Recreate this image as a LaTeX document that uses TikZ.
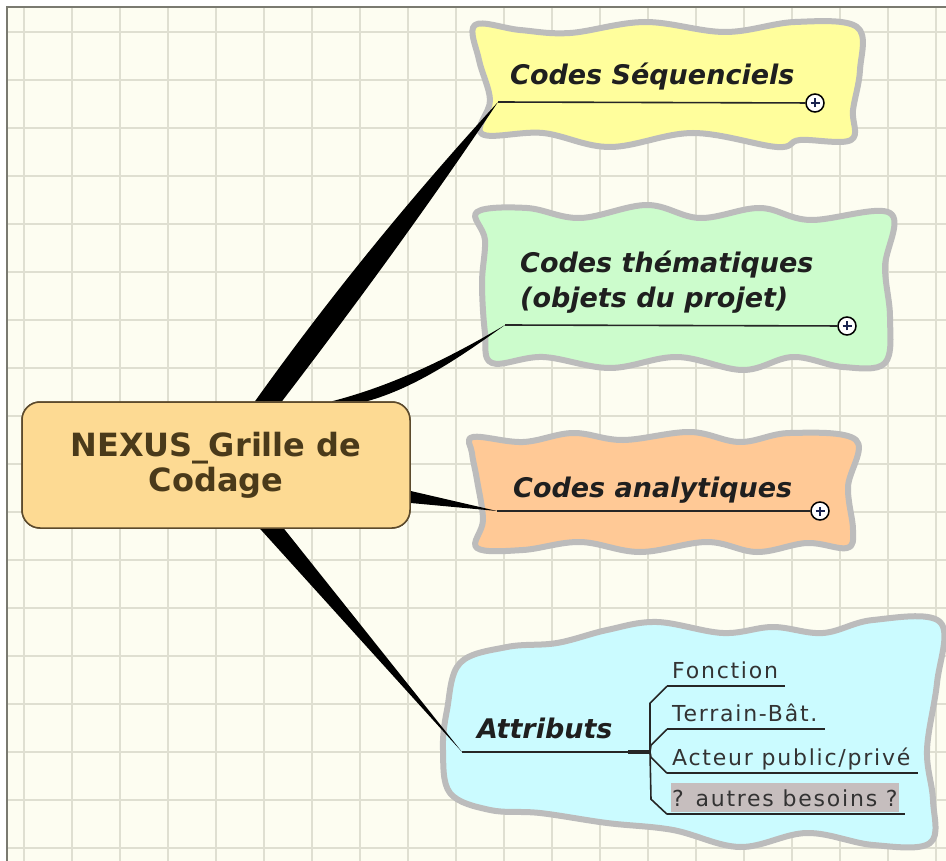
\documentclass[tikz,border=0pt]{standalone}
\usepackage{fontspec}
\setmainfont{DejaVu Sans}
\newfontfamily\itemfont[LetterSpace=8]{DejaVu Sans}
\usetikzlibrary{calc,positioning}
\definecolor{paper}{HTML}{FDFDF1}
\definecolor{gridcol}{HTML}{DFDFD1}
\definecolor{framecol}{HTML}{7A7A70}
\definecolor{blobgray}{HTML}{BCBCBC}
\definecolor{seqfill}{HTML}{FFFE9C}
\definecolor{thfill}{HTML}{CCFCCC}
\definecolor{anfill}{HTML}{FFC996}
\definecolor{atfill}{HTML}{CBFBFF}
\definecolor{rootfill}{HTML}{FDDA93}
\definecolor{rootline}{HTML}{5C4A2C}
\definecolor{roottext}{HTML}{4A3A1A}
\definecolor{hlgray}{HTML}{C6BEBE}
\definecolor{plusblue}{HTML}{1A2450}

\begin{document}
\begin{tikzpicture}[x=1pt,y=-1pt]
\tikzstyle{gridline}=[draw=gridcol, line width=1.2pt]
\tikzstyle{frame}=[draw=framecol, line width=2pt]
\tikzstyle{blob}=[draw=blobgray, line width=6pt, line join=round]
\tikzstyle{root}=[rectangle, rounded corners=18pt, draw=rootline, line width=1.5pt, fill=rootfill, minimum width=388pt, minimum height=126pt, align=center, text=roottext, font=\fontsize{32}{35}\selectfont\bfseries]
\tikzstyle{topic}=[anchor=base west, inner sep=0pt, align=left, font=\fontsize{27}{35}\selectfont\bfseries\itshape, text=black!88]
\tikzstyle{sub}=[anchor=base west, inner xsep=1pt, inner ysep=0pt, text height=23pt, text depth=6pt, font=\itemfont\fontsize{22}{26}\selectfont, text=black!80]
\tikzstyle{branch}=[fill=black]
\tikzstyle{uline}=[draw=black!85, line width=1.6pt]
\tikzstyle{plus}=[circle, draw=black, line width=1.5pt, fill=white, minimum size=18pt, inner sep=0pt,
  path picture={\draw[plusblue, line width=1.8pt] ([xshift=-4.5pt]path picture bounding box.center) -- ([xshift=4.5pt]path picture bounding box.center)
    ([yshift=-4.5pt]path picture bounding box.center) -- ([yshift=4.5pt]path picture bounding box.center);}]

  \useasboundingbox (0,0) rectangle (946,861);
  \fill[white] (0,0) rectangle (946,861);
  \fill[paper] (7,7) rectangle (946,861);
  \foreach \x in {24,72,...,936} \draw[gridline] (\x,7) -- (\x,861);
  \foreach \y in {32,80,...,848} \draw[gridline] (7,\y) -- (946,\y);
  \draw[frame] (7,861) -- (7,7) -- (946,7);

  % wavy clouds
  \draw[blob, fill=seqfill] plot[smooth cycle, tension=0.6] coordinates {
    (475,25) (520,30) (570,33) (645,22) (725,32) (795,22) (857,27) (860,70) (853,110) (851,140)
    (800,140) (777,147) (693,133) (610,147) (543,133) (482,134) (490,100) (479,60)};
  \draw[blob, fill=thfill] plot[smooth cycle, tension=0.6] coordinates {
    (477,212) (527,208) (580,218) (647,205) (700,218) (760,208) (810,220) (890,213)
    (885,267) (890,317) (885,363) (843,367) (793,357) (743,370) (677,357) (610,368)
    (543,357) (492,363) (485,333) (482,283) (485,240)};
  \draw[blob, fill=anfill] plot[smooth cycle, tension=0.6] coordinates {
    (473,437) (523,442) (573,433) (623,440) (690,432) (740,442) (790,433) (856,440)
    (848,487) (853,530) (847,548) (807,543) (757,552) (707,542) (640,552) (580,542)
    (523,550) (477,548) (483,520) (477,480) (472,453)};
  \draw[blob, fill=atfill] plot[smooth cycle, tension=0.6] coordinates {
    (460,663) (507,647) (557,643) (607,630) (657,622) (723,633) (773,627) (823,633)
    (873,620) (940,622) (937,683) (927,750) (933,800) (930,843) (873,845) (807,833)
    (740,847) (673,830) (607,823) (540,813) (490,810) (450,793) (443,750) (447,710)};

  \node[root] (root) at (216,465) {NEXUS\_Grille de\\Codage};

  \coordinate (seqtip) at (498,102);
  \coordinate (thtip)  at (505,325);
  \coordinate (antip)  at (497,511);
  \coordinate (attip)  at (462,752);

  \node[plus] (seqplus) at (815,103) {};
  \node[plus] (thplus)  at (847,326) {};
  \node[plus] (anplus)  at (820,511) {};

  % branches
  \fill[branch] ($(root.north)+(39,0)$) .. controls +(75,-105) and +(-87,95) .. (seqtip)
     .. controls +(-69,103) and +(75,-98) .. ($(root.north)+(66,0)$) -- cycle;
  \fill[branch] ($(root.north)+(116,0)$) .. controls +(62,-16) and +(-54,32) .. (thtip)
     .. controls +(-42,30) and +(50,-14) .. ($(root.north)+(151,0)$) -- cycle;
  \fill[branch] ($(root.east)+(0,26)$) -- (antip) -- ($(root.east)+(0,38)$) -- cycle;
  \fill[branch] ($(root.south)+(44,0)$) -- (attip) -- ($(root.south)+(68,0)$) -- cycle;
  \node[root] at (root) {NEXUS\_Grille de\\Codage};

  \path (seqtip) edge [uline] (seqplus);
  \path (thtip)  edge [uline] (thplus);
  \path (antip)  edge [uline] (anplus);

  \node[topic] (seq) at (510,85)  {Codes Séquenciels};
  \node[topic] (th)  at (520,308) {Codes thématiques\\(objets du projet)};
  \node[topic] (an)  at (513,497) {Codes analytiques};
  \node[topic] (at)  at (477,738) {Attributs};

  % attributes
  \coordinate (atjoin) at (628,752);
  \coordinate (brk) at (650,752);
  \path (attip) edge [uline] (atjoin);
  \path (atjoin) edge [uline, line width=3.2pt] (brk);

  \node[sub] (fn) at (671,678) {Fonction};
  \node[sub] (tr) at (671,721) {Terrain-Bât.};
  \node[sub] (ac) at (671,765) {Acteur public/privé};
  \node[sub, fill=hlgray] (as) at (671,806) {? autres besoins ?};

  \foreach \n in {fn,tr,ac,as}
    \draw[uline] ($(\n.south west)+(-4,2)$) coordinate (\n l) -- ($(\n.south east)+(6,2)$);

  \draw[uline] (fnl) -- ++(-17,17) -- (brk);
  \draw[uline] (trl) -- ++(-16,16) -- (brk);
  \draw[uline] (acl) -- ++(-16,-16) -- (brk);
  \draw[uline] (asl) -- ++(-16,-15) -- (brk);

\end{tikzpicture}
\end{document}
